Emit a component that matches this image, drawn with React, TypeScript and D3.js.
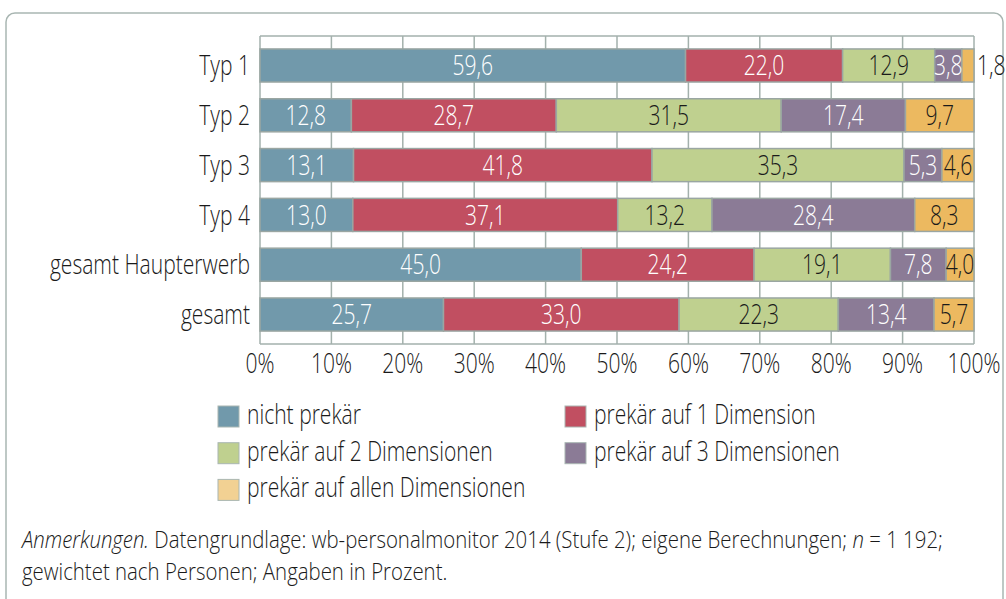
import React from 'react';
import * as d3 from 'd3';

// categories + series (percent)
const categories = ['Typ 1', 'Typ 2', 'Typ 3', 'Typ 4', 'gesamt Haupterwerb', 'gesamt'];
const seriesNames = [
  'nicht prekär',
  'prekär auf 1 Dimension',
  'prekär auf 2 Dimensionen',
  'prekär auf 3 Dimensionen',
  'prekär auf allen Dimensionen',
];
const nichtPrekaer = [59.6, 12.8, 13.1, 13.0, 45.0, 25.7];
const dim1 = [22.0, 28.7, 41.8, 37.1, 24.2, 33.0];
const dim2 = [12.9, 31.5, 35.3, 13.2, 19.1, 22.3];
const dim3 = [3.8, 17.4, 5.3, 28.4, 7.8, 13.4];
const dimAlle = [1.8, 9.7, 4.6, 8.3, 4.0, 5.7];
const tickValues = [0, 10, 20, 30, 40, 50, 60, 70, 80, 90, 100];

const series = [nichtPrekaer, dim1, dim2, dim3, dimAlle];
const colors = ['#7199ab', '#c14f61', '#bfd08f', '#8b7b96', '#ecb960'];
const legendColors = ['#7199ab', '#c14f61', '#bfd08f', '#8b7b96', '#f2d193'];
const labelColors = ['#fff', '#fff', '#1a1a1a', '#fff', '#1a1a1a'];

const FONT = '"Open Sans", sans-serif';
const GRID = '#a3b1ac';

const fmt = (v: number) => v.toFixed(1).replace('.', ',');

// narrow text: squeeze horizontally (condensed look)
const T = ({ x, y, anchor = 'start', size = 27, sx = 0.78, fill = '#1a1a1a', dy, children }: any) => (
  <g transform={`translate(${x},${y}) scale(${sx},1)`}>
    <text x={0} y={0} dy={dy} textAnchor={anchor} fontSize={size} fill={fill} fontWeight={330}>
      {children}
    </text>
  </g>
);

export default function App() {
  const width = 1006;
  const height = 599;

  const x = d3.scaleLinear().domain([0, 100]).range([260, 974]);
  const y = d3
    .scaleBand<string>()
    .domain(categories)
    .range([36, 344])
    .paddingInner(0.336)
    .paddingOuter(0.26);

  // stacked segments
  const segs: any[] = [];
  categories.forEach((c, i) => {
    let acc = 0;
    series.forEach((s, k) => {
      const v = s[i];
      const x0 = acc;
      const x1 = Math.min(100, acc + v);
      acc += v;
      segs.push({ c, k, v, x0, x1 });
    });
  });

  const legendItems = seriesNames.map((name, k) => ({
    name,
    k,
    col: k % 2,
    row: Math.floor(k / 2),
  }));

  return (
    <svg
      width={width}
      height={height}
      style={{ position: 'absolute', left: 0, top: 0, background: '#fff' }}
      fontFamily={FONT}
    >
      <rect x={6} y={13} width={997} height={640} rx={9} fill="none" stroke="#a9b6b2" strokeWidth={1.5} />

      {/* grid */}
      {tickValues.map((t) => (
        <line key={t} x1={x(t)} x2={x(t)} y1={36} y2={344} stroke={GRID} strokeWidth={1.5} />
      ))}
      <line x1={260} x2={974} y1={36} y2={36} stroke={GRID} strokeWidth={1.5} />
      <line x1={260} x2={974} y1={344} y2={344} stroke={GRID} strokeWidth={1.5} />

      {/* bars */}
      {segs.map((d, i) => (
        <rect
          key={i}
          x={x(d.x0)}
          y={y(d.c)}
          width={x(d.x1) - x(d.x0)}
          height={y.bandwidth()}
          fill={colors[d.k]}
          stroke="#9aa6a2"
          strokeWidth={1.5}
        />
      ))}

      {/* value labels */}
      {segs.map((d, i) => {
        const outside = x(d.x1) - x(d.x0) < 16;
        const cx = outside ? x(100) + 3 : (x(d.x0) + x(d.x1)) / 2;
        return (
          <T
            key={'l' + i}
            x={cx}
            y={(y(d.c) as number) + y.bandwidth() / 2}
            dy="0.36em"
            anchor={outside ? 'start' : 'middle'}
            fill={outside ? '#1a1a1a' : labelColors[d.k]}
          >
            {fmt(d.v)}
          </T>
        );
      })}

      {/* category labels */}
      {categories.map((c) => (
        <T key={c} x={250} y={(y(c) as number) + y.bandwidth() / 2} dy="0.36em" anchor="end">
          {c}
        </T>
      ))}

      {/* x tick labels */}
      {tickValues.map((t) => (
        <T key={'t' + t} x={x(t)} y={373} anchor="middle">
          {t}%
        </T>
      ))}

      {/* legend */}
      {legendItems.map((d) => {
        const lx = d.col === 0 ? 218 : 565;
        const ly = 406 + d.row * 36.7;
        return (
          <g key={d.name}>
            <rect x={lx} y={ly} width={21} height={21} fill={legendColors[d.k]} stroke="#a9b6b2" strokeWidth={1} />
            <T x={lx + 29} y={ly + 18}>
              {d.name}
            </T>
          </g>
        );
      })}

      {/* footnote */}
      <T x={22} y={548} size={24} sx={0.85}>
        <tspan fontStyle="italic">Anmerkungen.</tspan>
        <tspan> Datengrundlage: wb-personalmonitor 2014 (Stufe 2); eigene Berechnungen; </tspan>
        <tspan fontStyle="italic">n</tspan>
        <tspan> = 1 192;</tspan>
      </T>
      <T x={22} y={580} size={24} sx={0.85}>
        gewichtet nach Personen; Angaben in Prozent.
      </T>
    </svg>
  );
}
